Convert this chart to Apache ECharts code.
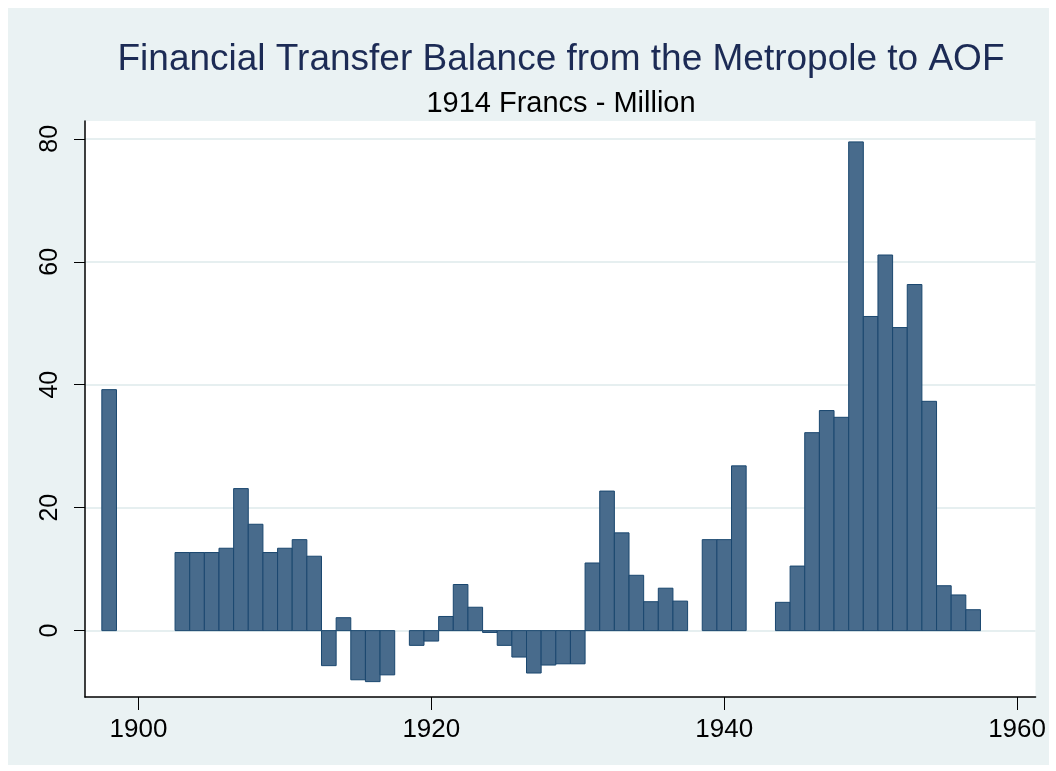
<!DOCTYPE html>
<html>
<head>
<meta charset="utf-8">
<script src="https://cdn.jsdelivr.net/npm/echarts@6/dist/echarts.min.js"></script>
<style>
  html, body { margin: 0; padding: 0; background: #ffffff; }
  #c { position: absolute; left: 8px; top: 8px; width: 1041px; height: 757px; }
</style>
</head>
<body>
<div id="c"></div>
<script>
// ---- data ----
const years = [1898,
  1903, 1904, 1905, 1906, 1907, 1908, 1909, 1910, 1911, 1912, 1913, 1914, 1915, 1916, 1917,
  1919, 1920, 1921, 1922, 1923, 1924, 1925, 1926, 1927, 1928, 1929, 1930,
  1931, 1932, 1933, 1934, 1935, 1936, 1937,
  1939, 1940, 1941,
  1944, 1945, 1946, 1947, 1948, 1949, 1950, 1951, 1952, 1953, 1954, 1955, 1956, 1957];
const balance = [39.2,
  12.7, 12.7, 12.7, 13.4, 23.1, 17.3, 12.7, 13.4, 14.8, 12.1, -5.7, 2.1, -8.0, -8.3, -7.2,
  -2.4, -1.7, 2.3, 7.5, 3.8, -0.3, -2.4, -4.3, -6.9, -5.6, -5.4, -5.4,
  11.0, 22.7, 15.9, 9.0, 4.7, 6.9, 4.8,
  14.8, 14.8, 26.8,
  4.6, 10.5, 32.2, 35.8, 34.7, 79.5, 51.1, 61.1, 49.3, 56.3, 37.3, 7.3, 5.8, 3.4];
const yTicks = [0, 20, 40, 60, 80];
const xTicks = [1900, 1920, 1940, 1960];
const titleText = 'Financial Transfer Balance from the Metropole to AOF';
const subtitleText = '1914 Francs - Million';

const points = years.map((y, i) => [y, balance[i]]);
const FONT = "'Liberation Sans', Arial, Helvetica, sans-serif";

const chart = echarts.init(document.getElementById('c'), null, { renderer: 'canvas' });
chart.setOption({
  backgroundColor: '#eaf2f3',
  animation: false,
  title: [
    { text: titleText, left: 548, top: 28, textAlign: 'center',
      textStyle: { fontFamily: FONT, fontSize: 37, fontWeight: 'normal', color: '#1c2b55', lineHeight: 37 } },
    { text: subtitleText, left: 548, top: 76, textAlign: 'center',
      textStyle: { fontFamily: FONT, fontSize: 29, fontWeight: 'normal', color: '#000000', lineHeight: 29 } }
  ],
  grid: { left: 77, top: 113, right: 12, bottom: 68, show: true, backgroundColor: '#ffffff', borderWidth: 0 },
  xAxis: {
    type: 'value', min: 1896.35, max: 1961.26,
    axisLine: { show: true, onZero: false, lineStyle: { color: '#000', width: 1.5 } },
    axisTick: { show: true, length: 13, customValues: xTicks, lineStyle: { color: '#000', width: 1 } },
    axisLabel: { customValues: xTicks, margin: 20, fontFamily: FONT, fontSize: 26, color: '#000',
      formatter: v => String(v) },
    splitLine: { show: false }
  },
  yAxis: {
    type: 'value', min: -10.8, max: 82.9,
    axisLine: { show: true, onZero: false, lineStyle: { color: '#000', width: 1.5 } },
    axisTick: { show: true, length: 11, customValues: yTicks, lineStyle: { color: '#000', width: 1 } },
    axisLabel: { customValues: yTicks, rotate: 90, margin: 22, fontFamily: FONT, fontSize: 25, color: '#000',
      formatter: v => String(v) },
    splitLine: { show: true, lineStyle: { color: '#e6eff0', width: 2 } }
  },
  series: [{
    type: 'custom',
    data: points,
    encode: { x: 0, y: 1 },
    renderItem: function (params, api) {
      const x = api.value(0), y = api.value(1);
      const pTop = api.coord([x - 0.5, y]);
      const pBase = api.coord([x + 0.5, 0]);
      return {
        type: 'rect',
        shape: {
          x: pTop[0],
          y: Math.min(pTop[1], pBase[1]),
          width: pBase[0] - pTop[0],
          height: Math.abs(pBase[1] - pTop[1])
        },
        style: { fill: '#486b8c', stroke: '#1a476f', lineWidth: 1 }
      };
    }
  }]
});
</script>
</body>
</html>
